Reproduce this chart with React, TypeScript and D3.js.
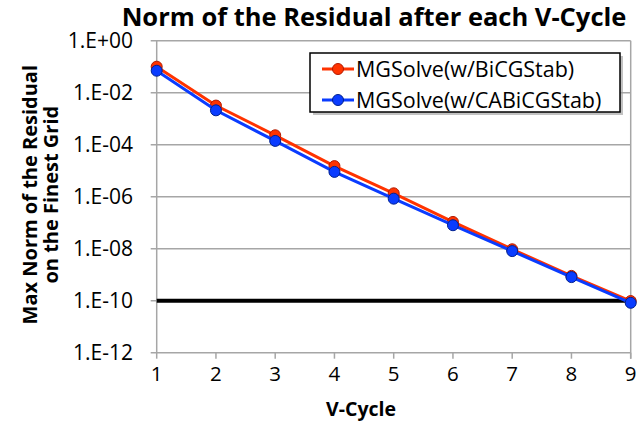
import React from 'react';
import * as d3 from 'd3';

const vCycles = [1, 2, 3, 4, 5, 6, 7, 8, 9];
const bicgstab = [1.0e-1, 3.2e-3, 2.3e-4, 1.5e-5, 1.35e-6, 1.07e-7, 9.5e-9, 9.0e-10, 9.7e-11];
const cabicgstab = [7.0e-2, 2.1e-3, 1.4e-4, 9.0e-6, 8.4e-7, 8.0e-8, 8.1e-9, 8.1e-10, 8.3e-11];
const seriesNames = ['MGSolve(w/BiCGStab)', 'MGSolve(w/CABiCGStab)'];
const yTicks = [1e0, 1e-2, 1e-4, 1e-6, 1e-8, 1e-10, 1e-12];
const yTickLabels = ['1.E+00', '1.E-02', '1.E-04', '1.E-06', '1.E-08', '1.E-10', '1.E-12'];
const thresholdValue = 1e-10;

const width = 638;
const height = 429;
const margin = { top: 40.7, right: 7.3, bottom: 76.3, left: 156.7 };
const font = "'Open Sans', sans-serif";

export default function App() {
  const x = d3
    .scaleLinear()
    .domain([1, 9])
    .range([margin.left, width - margin.right]);
  const y = d3
    .scaleLog()
    .domain([1e-12, 1])
    .range([height - margin.bottom, margin.top]);

  const line = d3
    .line<number>()
    .x((d, i) => x(vCycles[i]))
    .y((d) => y(d));

  const series = [
    { name: seriesNames[0], values: bicgstab, color: '#ff3300', stroke: '#b31a00' },
    { name: seriesNames[1], values: cabicgstab, color: '#0a3cff', stroke: '#002090' },
  ];

  const x0 = x(1);
  const x1 = x(9);
  const yBottom = y(1e-12);

  return (
    <svg
      width={width}
      height={height}
      style={{ position: 'absolute', left: 0, top: 0, background: '#fff' }}
      fontFamily={font}
    >
      {/* title */}
      <text x={374} y={26} textAnchor="middle" fontSize={25.5} fontWeight="bold">
        Norm of the Residual after each V-Cycle
      </text>

      {/* gridlines */}
      {yTicks.map((t) => (
        <line key={t} x1={x0 - 6} x2={x1} y1={y(t)} y2={y(t)} stroke="#a6a6a6" strokeWidth={1.5} />
      ))}
      <line x1={x0} x2={x0} y1={y(1)} y2={yBottom} stroke="#a6a6a6" strokeWidth={1.5} />
      <line x1={x1} x2={x1} y1={y(1)} y2={yBottom + 6} stroke="#a6a6a6" strokeWidth={1.5} />
      {vCycles.map((v) => (
        <line key={v} x1={x(v)} x2={x(v)} y1={yBottom} y2={yBottom + 6} stroke="#a6a6a6" strokeWidth={1.5} />
      ))}

      {/* y tick labels */}
      {yTicks.map((t, i) => (
        <text key={t} x={133} y={y(t) + 7} textAnchor="end" fontSize={21}>
          {yTickLabels[i]}
        </text>
      ))}
      {/* x tick labels */}
      {vCycles.map((v) => (
        <text key={v} x={x(v)} y={381} textAnchor="middle" fontSize={20.5}>
          {v}
        </text>
      ))}

      {/* axis titles */}
      <text x={361} y={416} textAnchor="middle" fontSize={19.5} fontWeight="bold">
        V-Cycle
      </text>
      <g transform={`translate(0, ${(y(1) + yBottom) / 2 - 2})`}>
        <text transform="translate(37,0) rotate(-90)" textAnchor="middle" fontSize={20} fontWeight="bold">
          Max Norm of the Residual
        </text>
        <text transform="translate(58,0) rotate(-90)" textAnchor="middle" fontSize={20} fontWeight="bold">
          on the Finest Grid
        </text>
      </g>

      {/* threshold */}
      <line
        x1={x0}
        x2={x1}
        y1={y(thresholdValue)}
        y2={y(thresholdValue)}
        stroke="#000"
        strokeWidth={4}
      />

      {/* series */}
      {series.map((s) => (
        <g key={s.name}>
          <path d={line(s.values) || ''} fill="none" stroke={s.color} strokeWidth={3} />
          {s.values.map((v, i) => (
            <circle key={i} cx={x(vCycles[i])} cy={y(v)} r={5.5} fill={s.color} stroke={s.stroke} strokeWidth={1} />
          ))}
        </g>
      ))}

      {/* legend */}
      <g>
        <rect x={313} y={56} width={310} height={59} fill="#9a9a9a" opacity={0.6} />
        <rect x={310} y={53} width={310} height={59} fill="#fff" stroke="#000" strokeWidth={1.5} />
        {series.map((s, i) => (
          <g key={s.name} transform={`translate(0, ${69 + i * 31})`}>
            <line x1={322} x2={354} y1={0} y2={0} stroke={s.color} strokeWidth={3} />
            <circle cx={338} cy={0} r={5.5} fill={s.color} stroke={s.stroke} strokeWidth={1} />
            <text x={356} y={7.5} fontSize={21.5}>
              {s.name}
            </text>
          </g>
        ))}
      </g>
    </svg>
  );
}
